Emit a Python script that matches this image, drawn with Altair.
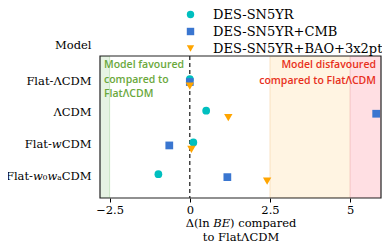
import altair as alt
import pandas as pd

models = ["Flat-ΛCDM", "ΛCDM", "Flat-𝑤CDM", "Flat-𝑤₀𝑤ₐCDM"]
series = ["DES-SN5YR", "DES-SN5YR+CMB", "DES-SN5YR+BAO+3x2pt"]
sn = [0.0, 0.51, 0.11, -0.98]
sn_cmb = [0.0, 5.81, -0.64, 1.17]
sn_bao = [0.0, 1.2, 0.05, 2.41]

band_lo = [-3.0, 2.5, 5.0]
band_hi = [-2.5, 5.0, 6.5]
band_col = ["#e6f3e3", "#fff4e2", "#ffdfe3"]
band_edge = ["#bfe0b8", "#f7dcb8", "#f5c0c6"]

colors = ["#00bfbf", "#3a76d0", "#ffa500"]
shapes = ["circle", "square", "triangle-down"]

rows = []
for s, vals in zip(series, [sn, sn_cmb, sn_bao]):
    for i, v in enumerate(vals):
        rows.append({"series": s, "model": models[i], "row": i, "dlnBE": v})
df = pd.DataFrame(rows)
bands = pd.DataFrame({"lo": band_lo, "hi": band_hi, "col": band_col, "edge": band_edge})

xdom = [-2.8, 5.96]
xs = alt.Scale(domain=xdom, nice=False, zero=False)
ys = alt.Scale(domain=[-0.79, 3.69], reverse=True, nice=False, zero=False)

label_expr = "[" + ",".join("'" + m + "'" for m in models) + "][datum.value]"

SERIF = "'DejaVu Serif', serif"
FS = 11.5

band_layer = alt.Chart(bands).mark_rect(clip=True, strokeWidth=0.8).encode(
    x=alt.X("lo:Q", scale=xs),
    x2="hi:Q",
    y=alt.value(0),
    y2=alt.value(142),
    fill=alt.Fill("col:N", scale=None),
    stroke=alt.Stroke("edge:N", scale=None),
)

zero_line = alt.Chart(pd.DataFrame({"z": [0.0]})).mark_rule(
    color="black", strokeDash=[4, 3], strokeWidth=1.1
).encode(x=alt.X("z:Q", scale=xs), y=alt.value(0), y2=alt.value(142))

yoff = {"circle": -2, "square": 1, "triangle-down": 5}
sizes = {"circle": 60, "square": 60, "triangle-down": 70}

legend = alt.Legend(title=None, orient="none", legendX=84, legendY=-48,
                    symbolSize=55, rowPadding=3, labelOffset=16, symbolStrokeWidth=0,
                    padding=0, symbolOpacity=1, labelLimit=0)

point_layers = []
for s, c, sh in zip(series, colors, shapes):
    layer = alt.Chart(df[df.series == s]).mark_point(
        filled=True, opacity=1, shape=sh, size=sizes[sh], yOffset=yoff[sh], clip=False
    ).encode(
        x=alt.X("dlnBE:Q", scale=xs, axis=alt.Axis(
            values=[-2.5, 0, 2.5, 5], labelExpr="datum.value==0?'0':format(datum.value,'.2~f')",
            title=["Δ(ln 𝐵𝐸) compared", "to FlatΛCDM"], titlePadding=2,
            tickColor="black", domain=False, grid=False, tickSize=4, labelPadding=2)),
        y=alt.Y("row:Q", scale=ys, axis=alt.Axis(
            values=[0, 1, 2, 3], labelExpr=label_expr, title="Model", titleAngle=0,
            titleX=-9, titleY=-8, titleAlign="right", titleBaseline="alphabetic",
            ticks=False, domain=False, grid=False, labelPadding=9, labelLimit=0)),
        shape=alt.Shape("series:N", scale=alt.Scale(domain=series, range=shapes), legend=legend),
        color=alt.Color("series:N", scale=alt.Scale(domain=series, range=colors), legend=legend),
    )
    point_layers.append(layer)

green_text = alt.Chart(pd.DataFrame({"t": [["Model favoured", "compared to", "FlatΛCDM"]]})).mark_text(
    align="left", baseline="alphabetic", font="Open Sans", fontSize=10.5, fontWeight=600,
    color="#6aa83c", lineHeight=14.5
).encode(text="t", x=alt.value(4), y=alt.value(12))

red_text = alt.Chart(pd.DataFrame({"t": [["Model disfavoured", "compared to FlatΛCDM"]]})).mark_text(
    align="right", baseline="alphabetic", font="Open Sans", fontSize=10.5, fontWeight=600,
    color="#e8301c", lineHeight=15.5
).encode(text="t", x=alt.value(276), y=alt.value(12))

frame = alt.Chart(pd.DataFrame({"a": [0]})).mark_rect(
    fill=None, stroke="#222222", strokeWidth=1.2
).encode(x=alt.value(0), x2=alt.value(281), y=alt.value(0), y2=alt.value(142))

chart = alt.layer(band_layer, zero_line, *point_layers, green_text, red_text, frame).properties(
    width=281, height=142,
    padding={"left": 92, "top": 48, "right": 1, "bottom": 44},
    autosize=alt.AutoSizeParams(type="none"),
).configure_view(stroke=None).configure_axis(
    labelFont=SERIF, labelFontSize=FS, labelColor="black", labelFontWeight="normal",
    titleFont=SERIF, titleFontSize=FS, titleColor="black", titleFontWeight="normal",
).configure_legend(
    labelFont=SERIF, labelFontSize=13, labelColor="black", labelFontWeight="normal",
)

chart.save("out.html", embed_options={"renderer": "svg", "actions": False})
